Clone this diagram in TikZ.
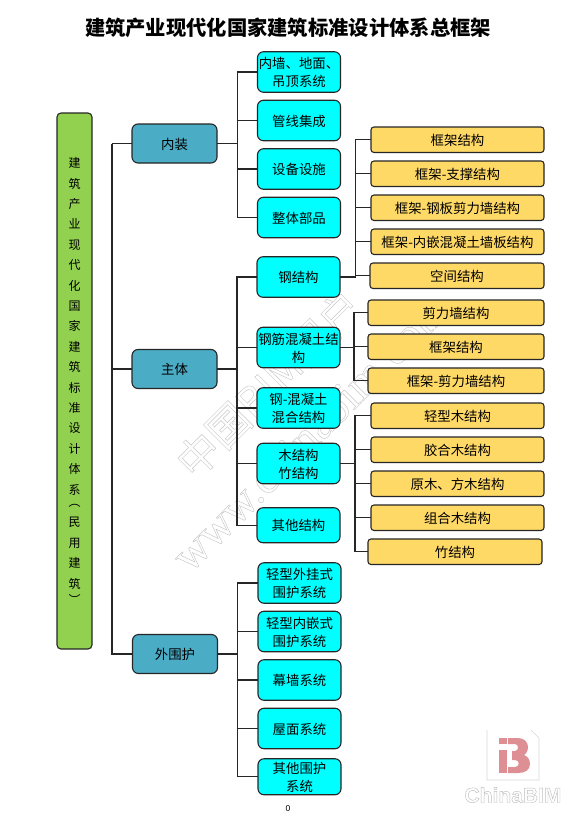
\documentclass[tikz,border=0pt]{standalone}
\usepackage{fontspec}
\setmainfont{Noto Sans CJK SC}
\newfontfamily\wmserif{Liberation Serif}
\newfontfamily\logosans{Liberation Sans}
\usepackage{xcolor}
\usetikzlibrary{positioning}
\definecolor{ink}{HTML}{262626}
\definecolor{rootgreen}{HTML}{92D050}
\definecolor{zoneteal}{HTML}{4BACC6}
\definecolor{subcyan}{HTML}{00FFFF}
\definecolor{leafgold}{HTML}{FFD966}
\definecolor{wmgray}{HTML}{C8C8C8}
\definecolor{logopink}{HTML}{DE8F94}
\newcommand{\hollowtext}[1]{\special{pdf:code q 1 Tr 0.45 w}#1\special{pdf:code Q}}
\tikzset{
  rootbox/.style={rectangle,draw=ink,fill=rootgreen,rounded corners=4pt,line width=1.1pt,
    align=center,inner sep=0pt,outer sep=0pt,minimum width=35pt,minimum height=536pt,
    font=\fontsize{12}{20.4}\selectfont},
  zonebox/.style={rectangle,draw=ink,fill=zoneteal,rounded corners=6pt,line width=1.1pt,
    align=center,inner sep=0pt,outer sep=0pt,minimum width=85pt,minimum height=39pt,
    font=\fontsize{13.4}{18}\selectfont,text depth=0pt},
  subbox/.style={rectangle,draw=ink,fill=subcyan,rounded corners=6pt,line width=1.1pt,
    align=center,inner sep=0pt,outer sep=0pt,minimum width=83pt,minimum height=40.5pt,
    font=\fontsize{13.4}{18}\selectfont,text depth=0pt},
  leafbox/.style={rectangle,draw=ink,fill=leafgold,rounded corners=3pt,line width=1.1pt,
    align=center,inner sep=0pt,outer sep=0pt,minimum width=173pt,minimum height=25.5pt,
    font=\fontsize{13.4}{18}\selectfont,text depth=0pt},
  wire/.style={draw=ink,line width=1.1pt},
}
\begin{document}
\begin{tikzpicture}[x=1pt,y=-1pt]
  \useasboundingbox (0,0) rectangle (580,820);
  \fill[white] (0,0) rectangle (580,820);

  \node[rotate=45,text=wmgray,font=\fontsize{42}{42}\selectfont] (wmcn) at (269,384) {\hollowtext{中国BIM门户}};
  \node[rotate=45,text=wmgray,font=\wmserif\fontsize{46}{46}\selectfont] (wmurl) at (310,432) {\hollowtext{www.chinabim.com}};

  \node[font=\bfseries\fontsize{20.3}{24}\selectfont] (title) at (288,28) {建筑产业现代化国家建筑标准设计体系总框架};

  \node[rootbox] (root) at (74.5,381) {建\\筑\\产\\业\\现\\代\\化\\国\\家\\建\\筑\\标\\准\\设\\计\\体\\系\\[-8pt]︵\\民\\用\\建\\筑\\[-4pt]︶};

  \node[zonebox] (neizhuang) at (174.5,143.5) {内装};
  \node[zonebox] (zhuti) at (174.5,369) {主体};
  \node[zonebox] (weihu) at (175,654) {外围护};

  \node[subbox] (nz1) at (299,72) {内墙、地面、\\吊顶系统};
  \node[subbox,below=8pt of nz1] (nz2) {管线集成};
  \node[subbox,below=8pt of nz2] (nz3) {设备设施};
  \node[subbox,below=8pt of nz3] (nz4) {整体部品};

  \node[subbox] (zt1) at (298.5,277) {钢结构};
  \node[subbox,below=30pt of zt1] (zt2) {钢筋混凝土结\\构};
  \node[subbox,below=20pt of zt2] (zt3) {钢-混凝土\\混合结构};
  \node[subbox,below=15pt of zt3] (zt4) {木结构\\竹结构};
  \node[subbox,below=24pt of zt4,minimum height=35pt] (zt5) {其他结构};

  \node[subbox] (wh1) at (299.5,583) {轻型外挂式\\围护系统};
  \node[subbox,below=8pt of wh1] (wh2) {轻型内嵌式\\围护系统};
  \node[subbox,below=8pt of wh2] (wh3) {幕墙系统};
  \node[subbox,below=8pt of wh3] (wh4) {屋面系统};
  \node[subbox,below=10pt of wh4,minimum height=36pt] (wh5) {其他围护\\系统};

  \node[leafbox] (gang1) at (457.5,139.75) {框架结构};
  \node[leafbox,below=8.5pt of gang1] (gang2) {框架-支撑结构};
  \node[leafbox,below=8.5pt of gang2] (gang3) {框架-钢板剪力墙结构};
  \node[leafbox,below=8.5pt of gang3] (gang4) {框架-内嵌混凝土墙板结构};
  \node[leafbox,below=8.5pt of gang4,minimum width=174pt,xshift=-.5pt] (gang5) {空间结构};
  \node[leafbox,below=11.5pt of gang5,minimum width=176pt,xshift=-1pt] (hun1) {剪力墙结构};
  \node[leafbox,below=8.5pt of hun1,minimum width=176pt] (hun2) {框架结构};
  \node[leafbox,below=8.5pt of hun2,minimum width=176pt] (hun3) {框架-剪力墙结构};
  \node[leafbox,below=9.5pt of hun3,xshift=1.5pt] (mu1) {轻型木结构};
  \node[leafbox,below=8.5pt of mu1] (mu2) {胶合木结构};
  \node[leafbox,below=8.5pt of mu2] (mu3) {原木、方木结构};
  \node[leafbox,below=8.5pt of mu3] (mu4) {组合木结构};
  \node[leafbox,below=8.5pt of mu4,minimum width=174pt,xshift=-2.5pt] (mu5) {竹结构};

  \draw[wire] (neizhuang.west) -- ++(-20,0) coordinate (mainbus);
  \draw[wire] (mainbus) |- (zhuti.west);
  \draw[wire] (mainbus) |- (weihu.west);

  \draw[wire] (neizhuang.east) -- ++(20.5,0) coordinate (nzbus);
  \foreach \n in {nz1,nz2,nz3,nz4} \draw[wire] (nzbus) |- (\n.west);
  \draw[wire] (zhuti.east) -- ++(20,0) coordinate (ztbus);
  \foreach \n in {zt1,zt2,zt3,zt4,zt5} \draw[wire] (ztbus) |- (\n.west);
  \draw[wire] (weihu.east) -- ++(20,0) coordinate (whbus);
  \foreach \n in {wh1,wh2,wh3,wh4,wh5} \draw[wire] (whbus) |- (\n.west);

  \draw[wire] (zt1.east) -- ++(15.5,0) coordinate (gangbus);
  \foreach \n in {gang1,gang2,gang3,gang4,gang5} \draw[wire] (gangbus) |- (\n.west);
  \draw[wire] (zt2.east) -- ++(14,0) coordinate (hunbus);
  \foreach \n in {hun1,hun2,hun3} \draw[wire] (hunbus) |- (\n.west);
  \draw[wire] (zt4.east) -- ++(15,0) coordinate (mubus);
  \foreach \n in {mu1,mu2,mu3,mu4,mu5} \draw[wire] (mubus) |- (\n.west);

  \node[font=\logosans\fontsize{8.5}{10}\selectfont] (pageno) at (288,809) {0};

  \draw[black!15,line width=.6pt] (487,730) -- (487,780) -- (539,780) -- (539,738) -- (531,730);
  \fill[logopink] (498.5,738) rectangle (507,744);
  \fill[logopink] (499,750) rectangle (507,773);
  \fill[logopink] (508,738) -- (518,738) .. controls (525,738) and (528,743) .. (528,747)
    .. controls (528,751) and (526,754) .. (524,755) .. controls (527,756) and (530,759) .. (530,764)
    .. controls (530,770) and (525,773) .. (518,773) -- (508,773) -- (508,767) -- (515,767)
    .. controls (520,767) and (520,760) .. (515,760) -- (512,760) -- (512,751) -- (515,751)
    .. controls (519,751) and (519,744) .. (515,744) -- (508,744) -- cycle;
  \node[text=black!25,font=\logosans\bfseries\fontsize{21}{24}\selectfont] (logotext) at (513,795) {\hollowtext{ChinaBIM}};
\end{tikzpicture}
\end{document}
